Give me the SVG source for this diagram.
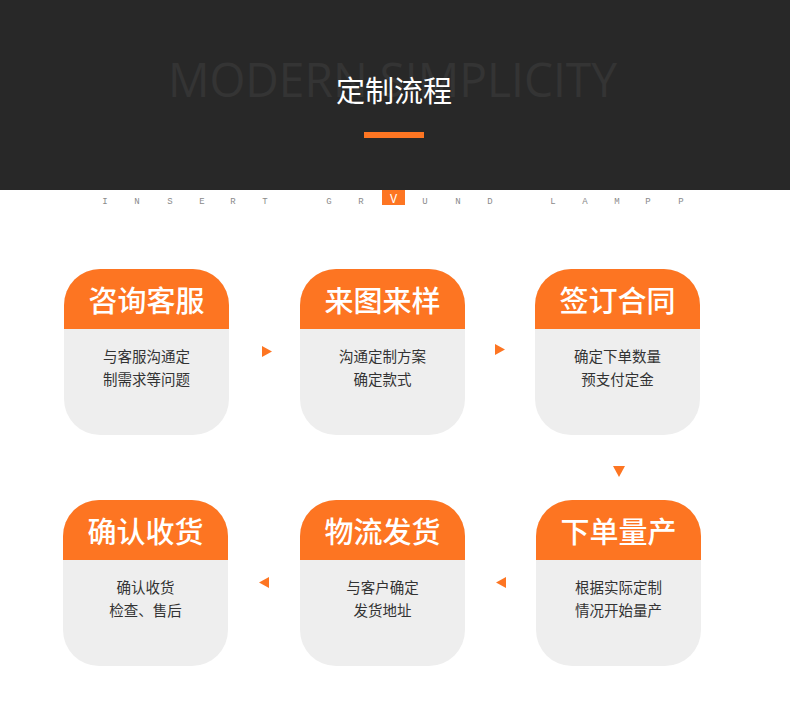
<svg xmlns="http://www.w3.org/2000/svg" xmlns:xlink="http://www.w3.org/1999/xlink" width="790" height="708" viewBox="0 0 790 708">
<style>
.bg{fill:#282828}
.ghost{font-family:"Open Sans","Liberation Sans",sans-serif;font-weight:400;font-size:47px;fill:#343434}
.title{font-family:"Noto Sans CJK SC",sans-serif;font-size:29px;fill:#ffffff}
.strip{font-family:"Liberation Mono",monospace;font-size:9px;fill:#8a8a8a;text-anchor:middle}
.head{fill:#fd7522}
.body{fill:#eeeeee}
.ct{font-family:"Noto Sans CJK SC",sans-serif;font-size:29px;font-weight:500;fill:#ffffff;text-anchor:middle}
.cb{font-family:"Noto Sans CJK SC",sans-serif;font-size:14.5px;fill:#333333;text-anchor:middle}
.arr{fill:#fd7522}
</style>
<defs>
<rect id="cardBody" width="165" height="166" rx="36" ry="36"/>
<path id="cardHead" d="M0,60 V36 A36,36 0 0 1 36,0 H129 A36,36 0 0 1 165,36 V60 Z"/>
</defs>
<rect width="790" height="708" fill="#ffffff"/>
<g id="header">
<rect class="bg" x="0" y="0" width="790" height="190"/>
<text class="ghost" x="168" y="97" textLength="449" lengthAdjust="spacingAndGlyphs">MODERN SIMPLICITY</text>
<text class="title" x="394" y="102" text-anchor="middle">定制流程</text>
<rect x="364" y="132" width="60" height="6" fill="#fd7522"/>
</g>
<g id="strip">
<rect x="382" y="190" width="23" height="15" fill="#fd7522"/>
<text class="strip" y="204"><tspan x="105">I</tspan><tspan x="137">N</tspan><tspan x="170">S</tspan><tspan x="202">E</tspan><tspan x="233">R</tspan><tspan x="265">T</tspan><tspan x="329">G</tspan><tspan x="361">R</tspan><tspan x="425">U</tspan><tspan x="458">N</tspan><tspan x="490">D</tspan><tspan x="553">L</tspan><tspan x="585">A</tspan><tspan x="617">M</tspan><tspan x="648">P</tspan><tspan x="681">P</tspan></text>
<text class="strip" x="393.5" y="203" style="fill:#ffffff;font-size:12px">V</text>
</g>
<g id="step1" transform="translate(64,269)">
<use href="#cardBody" class="body"/><use href="#cardHead" class="head"/>
<text class="ct" x="82.5" y="43">咨询客服</text>
<text class="cb" x="82.5" y="93">与客服沟通定</text>
<text class="cb" x="82.5" y="116">制需求等问题</text>
</g>
<g id="step2" transform="translate(300,269)">
<use href="#cardBody" class="body"/><use href="#cardHead" class="head"/>
<text class="ct" x="82.5" y="43">来图来样</text>
<text class="cb" x="82.5" y="93">沟通定制方案</text>
<text class="cb" x="82.5" y="116">确定款式</text>
</g>
<g id="step3" transform="translate(535,269)">
<use href="#cardBody" class="body"/><use href="#cardHead" class="head"/>
<text class="ct" x="82.5" y="43">签订合同</text>
<text class="cb" x="82.5" y="93">确定下单数量</text>
<text class="cb" x="82.5" y="116">预支付定金</text>
</g>
<g id="step4" transform="translate(536,500)">
<use href="#cardBody" class="body"/><use href="#cardHead" class="head"/>
<text class="ct" x="82.5" y="43">下单量产</text>
<text class="cb" x="82.5" y="93">根据实际定制</text>
<text class="cb" x="82.5" y="116">情况开始量产</text>
</g>
<g id="step5" transform="translate(300,500)">
<use href="#cardBody" class="body"/><use href="#cardHead" class="head"/>
<text class="ct" x="82.5" y="43">物流发货</text>
<text class="cb" x="82.5" y="93">与客户确定</text>
<text class="cb" x="82.5" y="116">发货地址</text>
</g>
<g id="step6" transform="translate(63,500)">
<use href="#cardBody" class="body"/><use href="#cardHead" class="head"/>
<text class="ct" x="82.5" y="43">确认收货</text>
<text class="cb" x="82.5" y="93">确认收货</text>
<text class="cb" x="82.5" y="116">检查、售后</text>
</g>
<g id="connectors">
<polygon class="arr" points="262,346 272,351.5 262,357"/>
<polygon class="arr" points="495,344 505,349.5 495,355"/>
<polygon class="arr" points="613,466 625,466 619,477"/>
<polygon class="arr" points="506,577 496,582.5 506,588"/>
<polygon class="arr" points="269,577 259,582.5 269,588"/>
</g>
</svg>
